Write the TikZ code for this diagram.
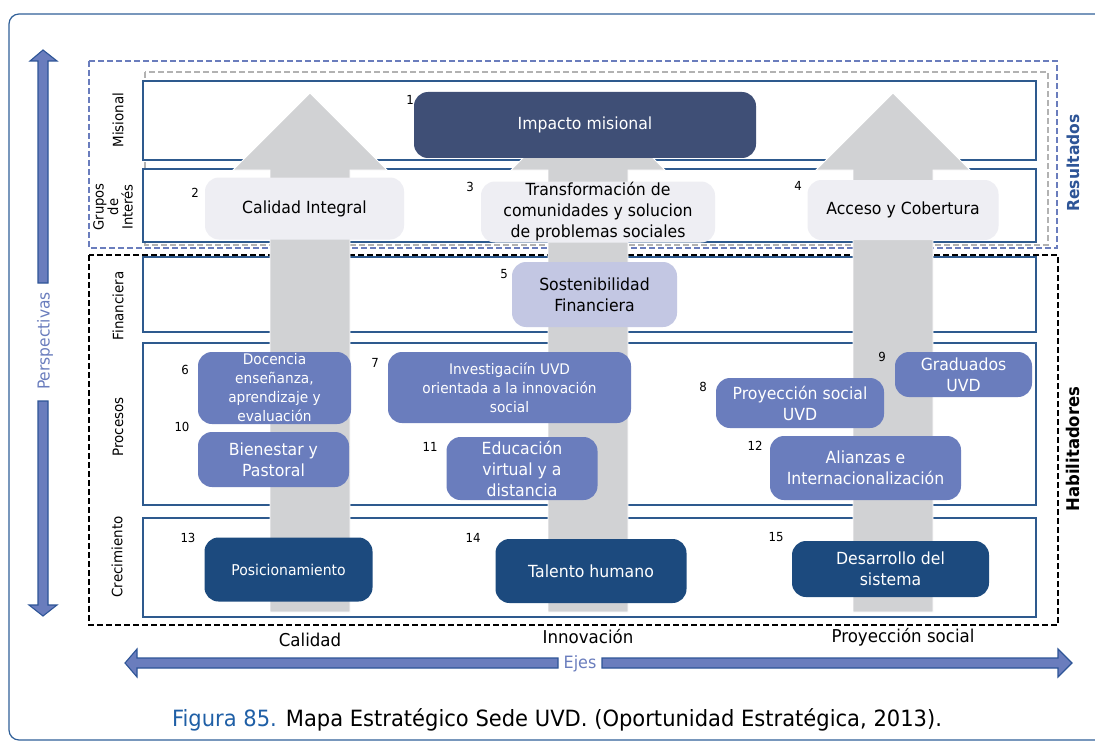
\documentclass[tikz,border=0pt]{standalone}
\usepackage{fontspec}
\setmainfont{DejaVu Sans}[FakeStretch=0.94]
\usetikzlibrary{calc}

\definecolor{filaazul}{HTML}{2E5A8E}
\definecolor{grisflecha}{HTML}{D1D2D4}
\definecolor{cajaclara}{HTML}{EEEEF3}
\definecolor{cajalila}{HTML}{C3C7E3}
\definecolor{cajamedia}{HTML}{6A7DBD}
\definecolor{cajamision}{HTML}{3F4F76}
\definecolor{cajaoscura}{HTML}{1C4A7E}
\definecolor{bordeflecha}{HTML}{2E5597}
\definecolor{marco}{HTML}{2F5F98}
\definecolor{titulo}{HTML}{1F5FA6}

\tikzset{
  fila/.style={draw=filaazul, line width=1.5pt, fill=white},
  rayado/.style={line width=1.2pt, dash pattern=on 6pt off 3pt},
  caja/.style={rounded corners=14pt, align=center, inner sep=1pt},
  clara/.style={caja, fill=cajaclara, text=black},
  lila/.style={caja, fill=cajalila, text=black},
  media/.style={caja, fill=cajamedia, text=white},
  mision/.style={caja, fill=cajamision, text=white},
  oscura/.style={caja, fill=cajaoscura, text=white},
  grande/.style={font=\fontsize{16.7}{21}\selectfont},
  chica/.style={font=\fontsize{14.6}{19}\selectfont},
  num/.style={font=\fontsize{12.5}{14}\selectfont},
  perspectiva/.style={rotate=90, align=center, font=\fontsize{14.3}{15}\selectfont},
  flechaazul/.style={fill=cajamedia, draw=bordeflecha, line width=1.1pt, line join=miter},
}

\begin{document}
\begin{tikzpicture}[x=1pt, y=-1pt]
    \useasboundingbox (0,0) rectangle (1095,741);
    % Outer frame
    \draw[marco, line width=1.2pt, rounded corners=10pt] (9,14) rectangle (1130,740);

    % Resultados / Habilitadores dashed boxes
    \draw[cajamedia, rayado] (89,61) rectangle (1057,248);
    \draw[gray!60, rayado] (145,72) rectangle (1048,245);
    \draw[black, rayado] (89,255) rectangle (1058,625);

    % Rows of perspectives
    \draw[fila] (143,81) rectangle (1036,160);
    \draw[fila] (143,169) rectangle (1036,242);
    \draw[fila] (143,257) rectangle (1036,332);
    \draw[fila] (143,343) rectangle (1036,505);
    \draw[fila] (143,518) rectangle (1036,617);

    % Big gray arrows (ejes)
    \foreach \cx in {310,588,893}
        \fill[grisflecha, draw=white, line width=0.8pt] (\cx-40,612) -- (\cx-40,170) -- (\cx-77,170) -- (\cx,93)
            -- (\cx+77,170) -- (\cx+40,170) -- (\cx+40,612) -- cycle;

    % Perspectivas arrow
    \draw[flechaazul] (38,283) -- (38,61) -- (30,61) -- (43,50) -- (57,61) -- (48,61) -- (48,283) -- cycle;
    \draw[flechaazul] (38,401) -- (38,605) -- (29,605) -- (43,616) -- (57,605) -- (48,605) -- (48,401) -- cycle;
    \node[rotate=90, text=cajamedia, font=\fontsize{16.5}{18}\selectfont] (perspectivas) at (45,341) {Perspectivas};

    % Ejes arrow
    \draw[flechaazul] (558,658) -- (137,658) -- (137,649) -- (125,663) -- (137,677) -- (137,668) -- (558,668) -- cycle;
    \draw[flechaazul] (602,658) -- (1058,658) -- (1058,649) -- (1072,663) -- (1058,677) -- (1058,668) -- (602,668) -- cycle;
    \node[text=cajamedia, font=\fontsize{17}{18}\selectfont] (ejes) at (580,664) {Ejes};

    % Row labels
    \node[perspectiva] (lmisional) at (118,120) {Misional};
    \node[perspectiva, font=\fontsize{14}{14.5}\selectfont] (lgrupos) at (113,207) {Grupos\\de\\Interés};
    \node[perspectiva] (lfinanciera) at (118,306) {Financiera};
    \node[perspectiva] (lprocesos) at (118,427) {Procesos};
    \node[perspectiva] (lcrecimiento) at (117,557) {Crecimiento};

    % Side labels
    \node[rotate=90, text=bordeflecha, font=\bfseries\fontsize{16.5}{18}\selectfont] (resultados) at (1073,163) {Resultados};
    \node[rotate=90, font=\bfseries\fontsize{17.5}{19}\selectfont] (habilitadores) at (1073,449) {Habilitadores};

    % Objectives
    \node[mision, grande, minimum width=342, minimum height=66] (impacto) at (585,125) {Impacto misional};
    \node[clara, grande, minimum width=199, minimum height=62] (calidadint) at (304.5,208.5) {Calidad Integral};
    \node[clara, grande, minimum width=234, minimum height=61] (transformacion) at (598,212) {Transformación de\\comunidades y solucion\\de problemas sociales};
    \node[clara, grande, minimum width=191, minimum height=60] (acceso) at (903,210) {Acceso y Cobertura};
    \node[lila, grande, minimum width=165, minimum height=65] (sostenibilidad) at (594.5,294.5) {Sostenibilidad\\Financiera};
    \node[media, chica, minimum width=153, minimum height=72] (docencia) at (274.5,388) {Docencia\\enseñanza,\\aprendizaje y\\evaluación};
    \node[media, chica, minimum width=243, minimum height=71] (investigacion) at (509.5,387.5) {Investigaciín UVD\\orientada a la innovación\\social};
    \node[media, grande, minimum width=168, minimum height=50] (proyeccion) at (800,403) {Proyección social\\UVD};
    \node[media, grande, minimum width=137, minimum height=45] (graduados) at (963.5,374.5) {Graduados\\UVD};
    \node[media, grande, minimum width=151, minimum height=55] (bienestar) at (273.5,459.5) {Bienestar y\\Pastoral};
    \node[media, grande, minimum width=151, minimum height=63] (educacion) at (522,468.5) {Educación\\virtual y a\\distancia};
    \node[media, grande, minimum width=191, minimum height=64] (alianzas) at (865.5,468) {Alianzas e\\Internacionalización};
    \node[oscura, font=\fontsize{14.9}{19}\selectfont, minimum width=168, minimum height=64] (posicionamiento) at (288.5,569.5) {Posicionamiento};
    \node[oscura, grande, minimum width=191, minimum height=64] (talento) at (591,571) {Talento humano};
    \node[oscura, grande, minimum width=197, minimum height=56] (desarrollo) at (890.5,569) {Desarrollo del\\sistema};

    % Numbers
    \node[num] (n1) at (410,100) {1};
    \node[num] (n2) at (195,193) {2};
    \node[num] (n3) at (470,187) {3};
    \node[num] (n4) at (798,186) {4};
    \node[num] (n5) at (504,274) {5};
    \node[num] (n6) at (185,370) {6};
    \node[num] (n7) at (375,363) {7};
    \node[num] (n8) at (703,387) {8};
    \node[num] (n9) at (882,357) {9};
    \node[num] (n10) at (182,427) {10};
    \node[num] (n11) at (430,447) {11};
    \node[num] (n12) at (755,446) {12};
    \node[num] (n13) at (188,538) {13};
    \node[num] (n14) at (473,538) {14};
    \node[num] (n15) at (776,537) {15};

    % Axis labels
    \node[font=\fontsize{17.7}{20}\selectfont] (calidad) at (310,640) {Calidad};
    \node[font=\fontsize{17.7}{20}\selectfont] (innovacion) at (588,637) {Innovación};
    \node[font=\fontsize{17.7}{20}\selectfont] (proysocial) at (903,637) {Proyección social};

    % Caption
    \node[font=\fontsize{22.4}{26}\selectfont] (pie) at (557,720) {\textcolor{titulo}{Figura 85.} Mapa Estratégico Sede UVD. (Oportunidad Estratégica, 2013).};
\end{tikzpicture}
\end{document}
